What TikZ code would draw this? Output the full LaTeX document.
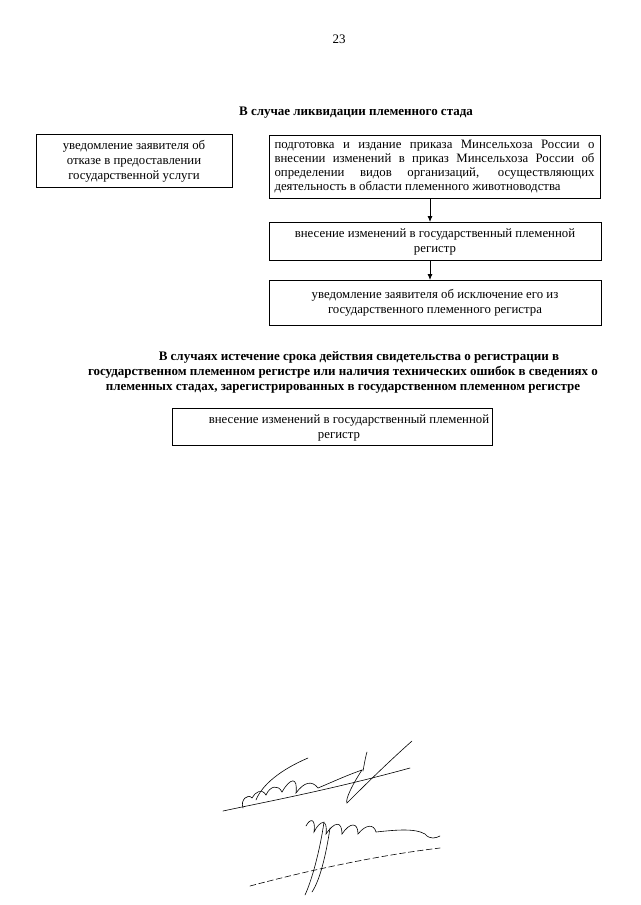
\documentclass[tikz,border=0pt]{standalone}
\usepackage{fontspec}
\setmainfont{Liberation Serif}
\usetikzlibrary{calc, arrows.meta}

\begin{document}
\begin{tikzpicture}[x=1pt, y=-1pt,
    box/.style={draw=black, line width=0.9pt, inner sep=3pt,
      font=\fontsize{12.8}{15}\selectfont},
    heading/.style={font=\bfseries\fontsize{13}{15}\selectfont, align=center},
    flow/.style={line width=0.9pt, -{Latex[length=6pt, width=5pt]}},
    sign/.style={line width=0.6pt, line cap=round}]
  % Page size of the scan
  \useasboundingbox (0,0) rectangle (640,905);
  \fill[white] (0,0) rectangle (640,905);

  % Page number
  \node[font=\fontsize{13}{14}\selectfont] (pagenum) at (339,39) {23};

  % First case: liquidation of the herd
  \node[heading] (headA) at (356,113) {В случае ликвидации племенного стада};

  \node[box, minimum width=196, minimum height=53, align=center] (refuse) at (134,161)
    {уведомление заявителя об\\отказе в предоставлении\\государственной услуги};
  \node[box, minimum width=331, minimum height=63, text width=320, align=justify,
      font=\fontsize{12.8}{14.2}\selectfont] (order) at (434.5,166.5)
    {подготовка и издание приказа Минсельхоза России о\linebreak
     внесении изменений в приказ Минсельхоза России об\linebreak
     определении видов организаций, осуществляющих\linebreak
     деятельность в области племенного животноводства};
  \node[box, minimum width=332, minimum height=38, align=center] (regA) at (435,241.5)
    {внесение изменений в государственный племенной\\регистр};
  \node[box, minimum width=332, minimum height=45, align=center] (exclude) at (435,303)
    {уведомление заявителя об исключение его из\\государственного племенного регистра};

  % Arrows down the right column
  \draw[flow] ([xshift=-4.5pt]order.south) -- ([xshift=-5pt]regA.north);
  \draw[flow] ([xshift=-5pt]regA.south) -- ([xshift=-5pt]exclude.north);

  % Second case: expiry or technical errors
  \node[heading] (headB) at (343,372)
    {\hspace*{32pt}В случаях истечение срока действия свидетельства о регистрации в\\
     государственном племенном регистре или наличия технических ошибок в сведениях о\\
     племенных стадах, зарегистрированных в государственном племенном регистре};

  \node[box, minimum width=320, minimum height=37] (regB) at (332,426.5) {};
  \node[font=\fontsize{12.8}{15}\selectfont, align=center] (regBtext) at (339,428)
    {\hspace*{20pt}внесение изменений в государственный племенной\\регистр};

  % Signature
  \draw[sign] (223,811) .. controls (260,803) and (330,790) .. (410,768);
  \draw[sign] (243,808) .. controls (240,800) and (248,793) .. (252,798)
    .. controls (255,792) and (262,788) .. (266,795)
    .. controls (270,786) and (278,784) .. (282,792)
    .. controls (290,778) and (298,776) .. (296,793)
    .. controls (304,782) and (312,780) .. (318,788);
  \draw[sign] (256,800) .. controls (262,785) and (280,770) .. (308,758);
  \draw[sign] (318,788) .. controls (330,783) and (345,776) .. (362,770)
    .. controls (352,785) and (345,800) .. (347,803)
    .. controls (360,790) and (385,765) .. (412,741);
  \draw[sign] (363,771) .. controls (365,760) and (366,755) .. (367,752);
  \draw[sign] (306,826) .. controls (310,818) and (316,818) .. (314,832)
    .. controls (320,820) and (328,818) .. (326,834)
    .. controls (334,822) and (342,820) .. (342,834)
    .. controls (350,822) and (358,822) .. (358,834)
    .. controls (366,824) and (374,824) .. (376,832)
    .. controls (395,830) and (415,828) .. (425,834)
    .. controls (430,840) and (436,838) .. (440,836);
  \draw[sign] (324,822) .. controls (320,850) and (312,880) .. (305,895);
  \draw[sign] (330,828) .. controls (326,855) and (320,880) .. (312,892);
  \draw[sign, dashed, dash pattern=on 6pt off 3pt] (250,886) .. controls (310,870) and (380,855) .. (440,848);
\end{tikzpicture}
\end{document}
